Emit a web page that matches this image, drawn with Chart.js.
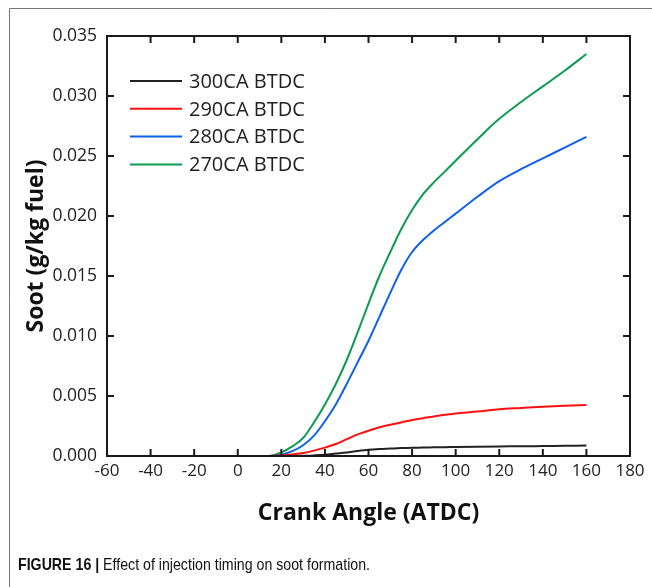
<!DOCTYPE html>
<html>
<head>
<meta charset="utf-8">
<script src="https://cdn.jsdelivr.net/npm/chart.js@4/dist/chart.umd.min.js"></script>
<style>
  html, body { margin: 0; padding: 0; background: #fff; }
  #wrap { width: 652px; height: 587px; }
</style>
</head>
<body>
<div id="wrap"><canvas id="graphic-soot" width="652" height="587"></canvas></div>
<script>
const angles = [-60, 0, 10, 15, 20, 25, 30, 35, 40, 45, 50, 55, 60, 65, 70, 75, 80, 85, 90, 95, 100, 110, 120, 130, 140, 150, 160];
const soot300 = [0, 0, 0, 0, 0, 0, 0.00002, 0.00005, 0.0001, 0.0002, 0.0003, 0.00042, 0.00052, 0.00058, 0.00062, 0.00066, 0.00069, 0.0007, 0.00072, 0.00073, 0.00075, 0.00078, 0.0008, 0.00081, 0.00083, 0.00085, 0.00087];
const soot290 = [0, 0, 0, 0, 0.00005, 0.00012, 0.00025, 0.00045, 0.0007, 0.001, 0.0014, 0.0018, 0.0021, 0.0024, 0.0026, 0.0028, 0.003, 0.00315, 0.0033, 0.00343, 0.00355, 0.0037, 0.0039, 0.004, 0.0041, 0.00418, 0.00425];
const soot280 = [0, 0, 0, 0, 0.0001, 0.0004, 0.0009, 0.0017, 0.0029, 0.0043, 0.006, 0.0078, 0.0096, 0.0116, 0.0136, 0.0155, 0.017, 0.018, 0.0188, 0.0195, 0.0202, 0.0216, 0.0229, 0.0239, 0.0248, 0.0257, 0.0266];
const soot270 = [0, 0, 0, 0.00003, 0.0003, 0.0008, 0.0015, 0.0028, 0.0043, 0.006, 0.008, 0.0103, 0.0127, 0.015, 0.017, 0.0189, 0.0205, 0.0218, 0.0228, 0.0237, 0.0246, 0.0264, 0.0281, 0.0295, 0.0308, 0.0321, 0.0335];
const seriesLabels = ['300CA BTDC', '290CA BTDC', '280CA BTDC', '270CA BTDC'];
const seriesColors = ['#222222', '#ff1010', '#1060e8', '#0a9c50'];

const xMin = -60, xMax = 180, xStep = 20;
const yMin = 0, yMax = 0.035, yStep = 0.005;

const toPoints = (ys) => angles.map((a, i) => ({ x: a, y: ys[i] }));

// frame, inward ticks, legend, caption
const framePlugin = {
    id: 'frame',
    afterDraw(chart) {
        const ctx = chart.ctx;
        const a = chart.chartArea;
        const xs = chart.scales.x, ys = chart.scales.y;
        const tl = 7;
        ctx.save();
        // outer figure border (top + left)
        ctx.strokeStyle = '#777';
        ctx.lineWidth = 1;
        ctx.beginPath();
        ctx.moveTo(9.5, 587);
        ctx.lineTo(9.5, 8.5);
        ctx.lineTo(652, 8.5);
        ctx.stroke();

        ctx.strokeStyle = '#1a1a1a';
        ctx.lineWidth = 2;
        ctx.strokeRect(a.left, a.top, a.right - a.left, a.bottom - a.top);
        ctx.beginPath();
        xs.ticks.forEach(t => {
            const px = xs.getPixelForValue(t.value);
            ctx.moveTo(px, a.bottom); ctx.lineTo(px, a.bottom - tl);
            ctx.moveTo(px, a.top); ctx.lineTo(px, a.top + tl);
        });
        ys.ticks.forEach(t => {
            const py = ys.getPixelForValue(t.value);
            ctx.moveTo(a.left, py); ctx.lineTo(a.left + tl, py);
            ctx.moveTo(a.right, py); ctx.lineTo(a.right - tl, py);
        });
        ctx.stroke();

        // legend
        ctx.font = '20px "Open Sans"';
        ctx.textBaseline = 'middle';
        ctx.fillStyle = '#222';
        chart.data.datasets.forEach((ds, i) => {
            const y = a.top + 45 + i * 27.8;
            ctx.strokeStyle = ds.borderColor;
            ctx.lineWidth = 2;
            ctx.beginPath();
            ctx.moveTo(a.left + 23, y);
            ctx.lineTo(a.left + 75, y);
            ctx.stroke();
            ctx.fillText(ds.label, a.left + 82, y + 1);
        });

        // caption, squeezed to a narrow face
        ctx.textBaseline = 'alphabetic';
        ctx.fillStyle = '#111';
        const lead = 'FIGURE 16 | ';
        const rest = 'Effect of injection timing on soot formation.';
        ctx.font = 'bold 17px "Liberation Sans"';
        const w1 = ctx.measureText(lead).width;
        ctx.font = '17px "Liberation Sans"';
        const w2 = ctx.measureText(rest).width;
        const k = 352 / (w1 + w2);
        ctx.translate(18, 570);
        ctx.scale(k, 1);
        ctx.font = 'bold 17px "Liberation Sans"';
        ctx.fillText(lead, 0, 0);
        ctx.font = '17px "Liberation Sans"';
        ctx.fillText(rest, w1, 0);
        ctx.restore();
    }
};

new Chart(document.getElementById('graphic-soot'), {
    type: 'line',
    data: {
        datasets: [soot300, soot290, soot280, soot270].map((s, i) => ({
            label: seriesLabels[i],
            data: toPoints(s),
            borderColor: seriesColors[i],
            borderWidth: 2,
            pointRadius: 0,
            cubicInterpolationMode: 'monotone',
            fill: false
        }))
    },
    options: {
        responsive: false,
        maintainAspectRatio: false,
        animation: false,
        layout: {
            padding: { left: 0, top: 36, right: 22, bottom: 0 }
        },
        scales: {
            x: {
                type: 'linear',
                min: xMin,
                max: xMax,
                grid: { display: false, drawTicks: false, tickLength: 0 },
                border: { display: false },
                afterFit(scale) { scale.height = 131; },
                ticks: {
                    stepSize: xStep,
                    padding: 5,
                    color: '#222',
                    font: { family: 'Open Sans', size: 17 }
                },
                title: {
                    display: true,
                    text: 'Crank Angle (ATDC)',
                    color: '#111',
                    font: { family: 'Open Sans', size: 23, weight: 'bold' },
                    padding: { top: 0, bottom: 60 }
                }
            },
            y: {
                min: yMin,
                max: yMax,
                grid: { display: false, drawTicks: false, tickLength: 0 },
                border: { display: false },
                afterFit(scale) { scale.width = 107; },
                ticks: {
                    stepSize: yStep,
                    padding: 10,
                    color: '#222',
                    font: { family: 'Open Sans', size: 17.5 },
                    callback: (v) => v.toFixed(3)
                },
                title: {
                    display: true,
                    text: 'Soot (g/kg fuel)',
                    color: '#111',
                    font: { family: 'Open Sans', size: 23, weight: 'bold' },
                    padding: { top: 23, bottom: 0 }
                }
            }
        },
        plugins: {
            legend: { display: false },
            tooltip: { enabled: false }
        }
    },
    plugins: [framePlugin]
});
</script>
</body>
</html>
